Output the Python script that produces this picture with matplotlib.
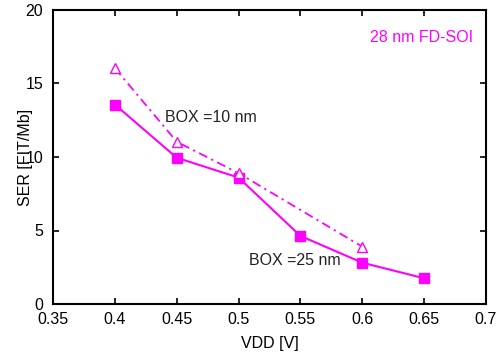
import numpy as np
import matplotlib.pyplot as plt

plt.rcParams['font.family'] = ['Liberation Sans', 'DejaVu Sans']
plt.rcParams['font.size'] = 11.5

vdd_25 = [0.40, 0.45, 0.50, 0.55, 0.60, 0.65]
ser_25 = [13.57, 9.95, 8.6, 4.63, 2.81, 1.75]
vdd_10 = [0.40, 0.45, 0.50, 0.60]
ser_10 = [16.05, 11.04, 8.9, 3.9]

mag = '#ff00ff'

fig = plt.figure(figsize=(5.02, 3.56), dpi=100)
ax = fig.add_axes([53/502, 1 - 304/356, 433/502, 294/356])

ax.plot(vdd_25, ser_25, color=mag, lw=1.5, marker='s', ms=7.5, mfc=mag, mec=mag)
ax.plot(vdd_10, ser_10, color=mag, lw=1.3, ls=(0, (5, 2.5, 1.2, 2.5)), marker='^', ms=6.5,
        mfc='white', mec=mag, mew=1)

ax.set_xlim(0.35, 0.7)
ax.set_ylim(0, 20)
ax.set_xticks(np.arange(0.35, 0.701, 0.05))
ax.set_xticklabels(['0.35', '0.4', '0.45', '0.5', '0.55', '0.6', '0.65', '0.7'])
ax.set_yticks([0, 5, 10, 15, 20])
ax.tick_params(direction='in', top=True, right=True, length=4, width=1.2)
ax.tick_params(axis='x', pad=6)
ax.tick_params(axis='y', pad=7)
for s in ax.spines.values():
    s.set_linewidth(1.5)

ax.set_xlabel('VDD [V]', labelpad=6)
ax.set_ylabel('SER [FIT/Mb]', labelpad=-5.5)

ax.text(0.648, 18.16, '28 nm FD-SOI', color=mag, ha='center', va='center')
ax.text(0.4777, 12.72, 'BOX =10 nm', color='#222222', ha='center', va='center')
ax.text(0.5456, 2.99, 'BOX =25 nm', color='#222222', ha='center', va='center')

fig.savefig('out.png', dpi=100)
